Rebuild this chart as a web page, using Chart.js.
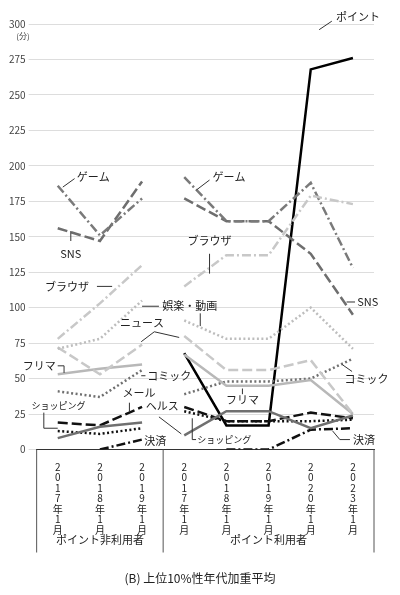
<!DOCTYPE html>
<html><head><meta charset="utf-8">
<script src="https://cdn.jsdelivr.net/npm/chart.js@4"></script>
<style>body{margin:0;background:#fff}#wrap{width:400px;height:595px}</style>
</head><body><div id="wrap"><canvas id="c"></canvas></div>
<script>
const months = ['2017年1月','2018年1月','2019年1月','2017年1月','2018年1月','2019年1月','2020年1月','2023年1月'];
const groups = ['ポイント非利用者','ポイント利用者'];
const yTicks = [0,25,50,75,100,125,150,175,200,225,250,275,300];

const game    = [186,151,177,192,161,161,188,128];
const sns     = [156,147,189,177,161,161,138,95];
const browser = [78,103,130,115,137,137,179,173];
const ent     = [71,78,105,91,78,78,100,71];
const news    = [72,53,74,80,56,56,63,25];
const frima   = [53,57,60,67,45,45,49,25];
const comic   = [41,37,56,39,48,48,50,64];
const point   = [null,null,null,68,17,17,268,276];
const mail    = [19,17,30,30,20,20,26,22];
const shop    = [13,11,15,27,20,20,20,21];
const health  = [8,16,19,10,27,27,15,24];
const payment = [null,0,7,null,0,0,14,15];

// labels: text, x index, value, align, leader points [[i,v],...], small font
const notes = [
  ['ゲーム',0.45,192,'left',[[0.12,185],[0.4,191]]],
  ['SNS',0.31,138,'center',[[0.31,154],[0.31,147]]],
  ['ブラウザ',0.74,115,'right',[[0.93,115],[1.29,115]]],
  ['娯楽・動画',2.48,101,'left',[[2.0,101],[2.4,101]]],
  ['',3.38,94,'left',[[3.38,96],[3.38,87]]],
  ['ニュース',2.0,89,'center',[[1.98,76],[2.29,83],[2.88,79]]],
  ['フリマ',-0.05,59,'right',[[0.0,59],[0.15,59],[0.15,54]]],
  ['コミック',2.12,52,'left',[[1.98,52],[2.08,52]]],
  ['メール',1.93,40,'center',[[1.7,33],[1.7,27]]],
  ['ヘルス',2.48,31,'center',[[2.4,23],[2.93,11]]],
  ['ショッピング',0.02,31,'center',[[-0.33,26],[-0.33,15],[0,15]],true],
  ['決済',2.05,6,'left',[]],
  ['ゲーム',3.67,192,'left',[[3.29,183],[3.6,190]]],
  ['ブラウザ',3.6,147,'center',[[3.6,138],[3.6,124]]],
  ['フリマ',4.38,35,'center',[[4.38,43],[4.38,39]]],
  ['ショッピング',3.31,7,'left',[[3.19,22],[3.19,7],[3.28,7]],true],
  ['SNS',7.1,104,'left',[[6.85,104],[7.05,104]]],
  ['コミック',6.8,50,'left',[[6.74,60],[6.98,55]]],
  ['決済',7.0,7,'left',[[6.52,13],[6.69,7],[6.93,7]]],
  ['ポイント',6.6,305,'left',[[6.2,296],[6.5,302]]]
];

const LD = [10,4], DD = [9,3,2,3], DT = [2,2.5];
function ser(label, data, color, dash, w) {
  return {label, data, borderColor: color, borderDash: dash, borderWidth: w || 2.5,
    pointRadius: 0, fill: false, tension: 0,
    segment: {borderColor: c => c.p0DataIndex === 2 ? 'rgba(0,0,0,0)' : undefined}};
}

const annot = {
  id: 'annot',
  afterDraw(chart) {
    const {ctx, scales: {x, y}, chartArea: a} = chart;
    const px = i => x.getPixelForValue(0) + i * (x.getPixelForValue(1) - x.getPixelForValue(0));
    ctx.save();
    ctx.fillStyle = '#222'; ctx.strokeStyle = '#333'; ctx.lineWidth = 1;
    ctx.textBaseline = 'middle';
    notes.forEach(([t, i, v, al, lead, small]) => {
      ctx.font = (small ? '9px' : '11px') + ' "Noto Sans CJK JP"';
      ctx.textAlign = al;
      if (t) ctx.fillText(t, px(i), y.getPixelForValue(v));
      if (lead.length) {
        ctx.beginPath();
        lead.forEach(([li, lv], k) => k ? ctx.lineTo(px(li), y.getPixelForValue(lv)) : ctx.moveTo(px(li), y.getPixelForValue(lv)));
        ctx.stroke();
      }
    });
    ctx.font = '8px "Noto Sans CJK JP"'; ctx.textAlign = 'right'; ctx.fillStyle = '#444';
    ctx.fillText('(分)', a.left - 7, y.getPixelForValue(300) + 12);
    // group box
    ctx.strokeStyle = '#555';
    const bottom = a.bottom + 103;
    [a.left, px(2.5), a.right].forEach(xx => { ctx.beginPath(); ctx.moveTo(xx, a.bottom); ctx.lineTo(xx, bottom); ctx.stroke(); });
    ctx.fillStyle = '#222'; ctx.textAlign = 'center'; ctx.font = '11px "Noto Sans CJK JP"';
    ctx.fillText(groups[0], (a.left + px(2.5)) / 2, a.bottom + 90);
    ctx.fillText(groups[1], (px(2.5) + a.right) / 2, a.bottom + 90);
    ctx.font = '12px "Noto Sans CJK JP"';
    ctx.fillText('(B) 上位10%性年代加重平均', 200, 578);
    ctx.restore();
  }
};

new Chart(document.getElementById('c'), {
  type: 'line',
  data: {
    labels: months.map(m => m.split('')),
    datasets: [
      ser('ブラウザ', browser, '#c8c8c8', DD),
      ser('娯楽・動画', ent, '#bdbdbd', DT),
      ser('ニュース', news, '#c8c8c8', LD),
      ser('フリマ', frima, '#b8b8b8', []),
      ser('ゲーム', game, '#7a7a7a', DD),
      ser('SNS', sns, '#6e6e6e', LD),
      ser('コミック', comic, '#707070', DT),
      ser('ヘルス', health, '#707070', []),
      ser('メール', mail, '#111', LD),
      ser('ショッピング', shop, '#111', DT),
      ser('決済', payment, '#111', DD),
      ser('ポイント', point, '#000', [], 2.5)
    ]
  },
  options: {
    responsive: true, maintainAspectRatio: false, animation: false,
    layout: {padding: {top: 24, right: 26, bottom: 56, left: 6}},
    plugins: {legend: {display: false}, tooltip: {enabled: false}},
    scales: {
      x: {offset: true, grid: {display: false}, border: {color: '#333'},
        ticks: {color: '#222', padding: 4, font: {size: 10, family: '"Noto Sans CJK JP"', lineHeight: 1.05}, maxRotation: 0, autoSkip: false}},
      y: {min: 0, max: 300, border: {display: false},
        grid: {color: '#ddd'},
        afterBuildTicks: s => { s.ticks = yTicks.map(v => ({value: v})); },
        ticks: {color: '#444', font: {size: 10, family: '"Noto Sans CJK JP"'}}}
    }
  },
  plugins: [annot]
});
</script></body></html>
